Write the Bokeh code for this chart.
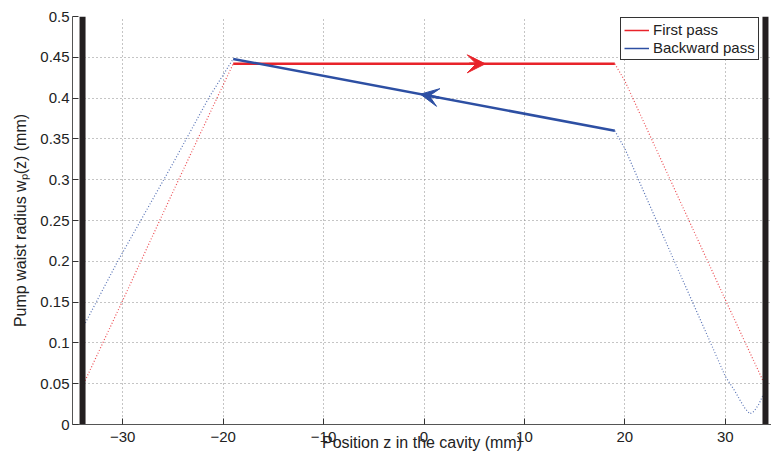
import numpy as np
from bokeh.plotting import figure
from bokeh.models import Range1d, Legend, LegendItem, Arrow, VeeHead, FixedTicker
from bokeh.embed import file_html
from bokeh.resources import INLINE

# ---- data ----
# solid segments inside the crystal region
first_z = [-19.0, 19.0]
first_w = [0.442, 0.442]
back_z = [-19.0, 19.0]
back_w = [0.448, 0.360]

# dotted propagation outside
first_left_z = [-34.0, -30.0, -25.0, -21.0, -19.0]
first_left_w = [0.047, 0.152, 0.285, 0.390, 0.442]
first_right_z = [19.0, 20.0, 25.0, 30.0, 34.0]
first_right_w = [0.442, 0.421, 0.287, 0.153, 0.047]

back_left_z = [-34.0, -30.5, -25.0, -21.4, -19.0]
back_left_w = [0.118, 0.200, 0.320, 0.401, 0.448]
back_right_z = [19.0, 20.0, 22.0, 25.0, 28.0, 30.0, 31.0, 31.5, 32.0, 32.45, 32.85, 33.35, 34.0]
back_right_w = [0.360, 0.338, 0.282, 0.198, 0.115, 0.059, 0.040, 0.029, 0.019, 0.013, 0.016, 0.025, 0.043]

# mirrors
mirror_z = [-34.0, 34.0]
mirror_w0 = [0.0, 0.0]
mirror_w1 = [0.5, 0.5]

# arrow tips (z positions)
first_arrow = (4.5, 6.1)    # (start, tip)
back_arrow = (1.5, -0.35)

x_ticks = [-30, -20, -10, 0, 10, 20, 30]
y_ticks = [0, 0.05, 0.1, 0.15, 0.2, 0.25, 0.3, 0.35, 0.4, 0.45, 0.5]

RED = "#e8232a"
BLUE = "#2d4fa3"
FONT = "Liberation Sans"

p = figure(width=771, height=463, output_backend="svg", toolbar_location=None,
           x_range=Range1d(-35, 34.6), y_range=Range1d(0, 0.5),
           min_border_left=72, min_border_right=0, min_border_top=16, min_border_bottom=39)
p.outline_line_color = None
p.background_fill_color = "white"

# grid
for g in (p.xgrid, p.ygrid):
    g.grid_line_color = "#8a8a8a"
    g.grid_line_dash = "1 3"
    g.grid_line_width = 1
p.xaxis.ticker = FixedTicker(ticks=x_ticks)
p.yaxis.ticker = FixedTicker(ticks=y_ticks)
p.yaxis.major_label_overrides = {0: "0", 0.5: "0.5", 0.1: "0.1", 0.2: "0.2", 0.3: "0.3", 0.4: "0.4"}
p.xaxis.major_label_overrides = {t: (("\u2212" + str(-t)) if t < 0 else str(t)) for t in x_ticks}

for ax in (p.xaxis, p.yaxis):
    ax.axis_line_color = "#555555"
    ax.axis_line_width = 1
    ax.major_tick_in = 6
    ax.major_tick_out = 0
    ax.minor_tick_line_color = None
    ax.major_tick_line_color = "#333333"
    ax.major_label_text_font = FONT
    ax.major_label_text_font_size = "15px"
    ax.major_label_text_color = "#222222"
    ax.axis_label_text_font = FONT
    ax.axis_label_text_font_size = "16px"
    ax.axis_label_text_font_style = "normal"
    ax.axis_label_text_color = "#222222"

p.xaxis.axis_label = "Position z in the cavity (mm)"
p.yaxis.axis_label = "Pump waist radius w\u209a(z) (mm)"
p.xaxis.major_label_standoff = 7
p.xaxis.axis_label_standoff = -11
p.yaxis.major_label_standoff = 3
p.yaxis.axis_label_standoff = 8

# dotted outside propagation
p.line(first_left_z, first_left_w, line_color=RED, line_width=1.2, line_dash="1 2", line_alpha=0.8)
p.line(first_right_z, first_right_w, line_color=RED, line_width=1.2, line_dash="1 2", line_alpha=0.8)
p.line(back_left_z, back_left_w, line_color=BLUE, line_width=1.2, line_dash="1 2", line_alpha=0.8)
p.line(back_right_z, back_right_w, line_color=BLUE, line_width=1.2, line_dash="1 2", line_alpha=0.8)

# solid segments
p.line(first_z, first_w, line_color=RED, line_width=2.5)
p.line(back_z, back_w, line_color=BLUE, line_width=2.5)

# mirrors
p.segment(x0=mirror_z, y0=mirror_w0, x1=mirror_z, y1=mirror_w1, line_color="#231f20", line_width=6)

# arrows along the solid lines
fa_y = np.interp(first_arrow, first_z, first_w)
ba_y = np.interp(back_arrow, back_z, back_w)
p.add_layout(Arrow(end=VeeHead(size=18, fill_color=RED, line_color=RED, line_width=1),
                   x_start=first_arrow[0], y_start=float(fa_y[0]),
                   x_end=first_arrow[1], y_end=float(fa_y[1]),
                   line_color=RED, line_width=2.5))
p.add_layout(Arrow(end=VeeHead(size=18, fill_color=BLUE, line_color=BLUE, line_width=1),
                   x_start=back_arrow[0], y_start=float(ba_y[0]),
                   x_end=back_arrow[1], y_end=float(ba_y[1]),
                   line_color=BLUE, line_width=2.5))

# legend (thin sample lines, off-screen NaN data)
leg_first = p.line(x=[np.nan], y=[np.nan], line_color=RED, line_width=1.5)
leg_back = p.line(x=[np.nan], y=[np.nan], line_color=BLUE, line_width=1.5)
leg = Legend(items=[LegendItem(label="First pass", renderers=[leg_first]),
                    LegendItem(label="Backward pass", renderers=[leg_back])],
             location=(548, 364))
leg.label_text_font = FONT
leg.label_text_font_size = "15px"
leg.label_text_color = "#222222"
leg.glyph_width = 25
leg.glyph_height = 16
leg.label_height = 16
leg.label_standoff = 4
leg.spacing = 1
leg.padding = 3
leg.margin = 0
leg.border_line_color = "#333333"
leg.border_line_alpha = 1.0
leg.border_line_width = 1
leg.background_fill_color = "white"
leg.background_fill_alpha = 1.0
p.add_layout(leg, "center")

open("out.html", "w").write(file_html(p, INLINE))
